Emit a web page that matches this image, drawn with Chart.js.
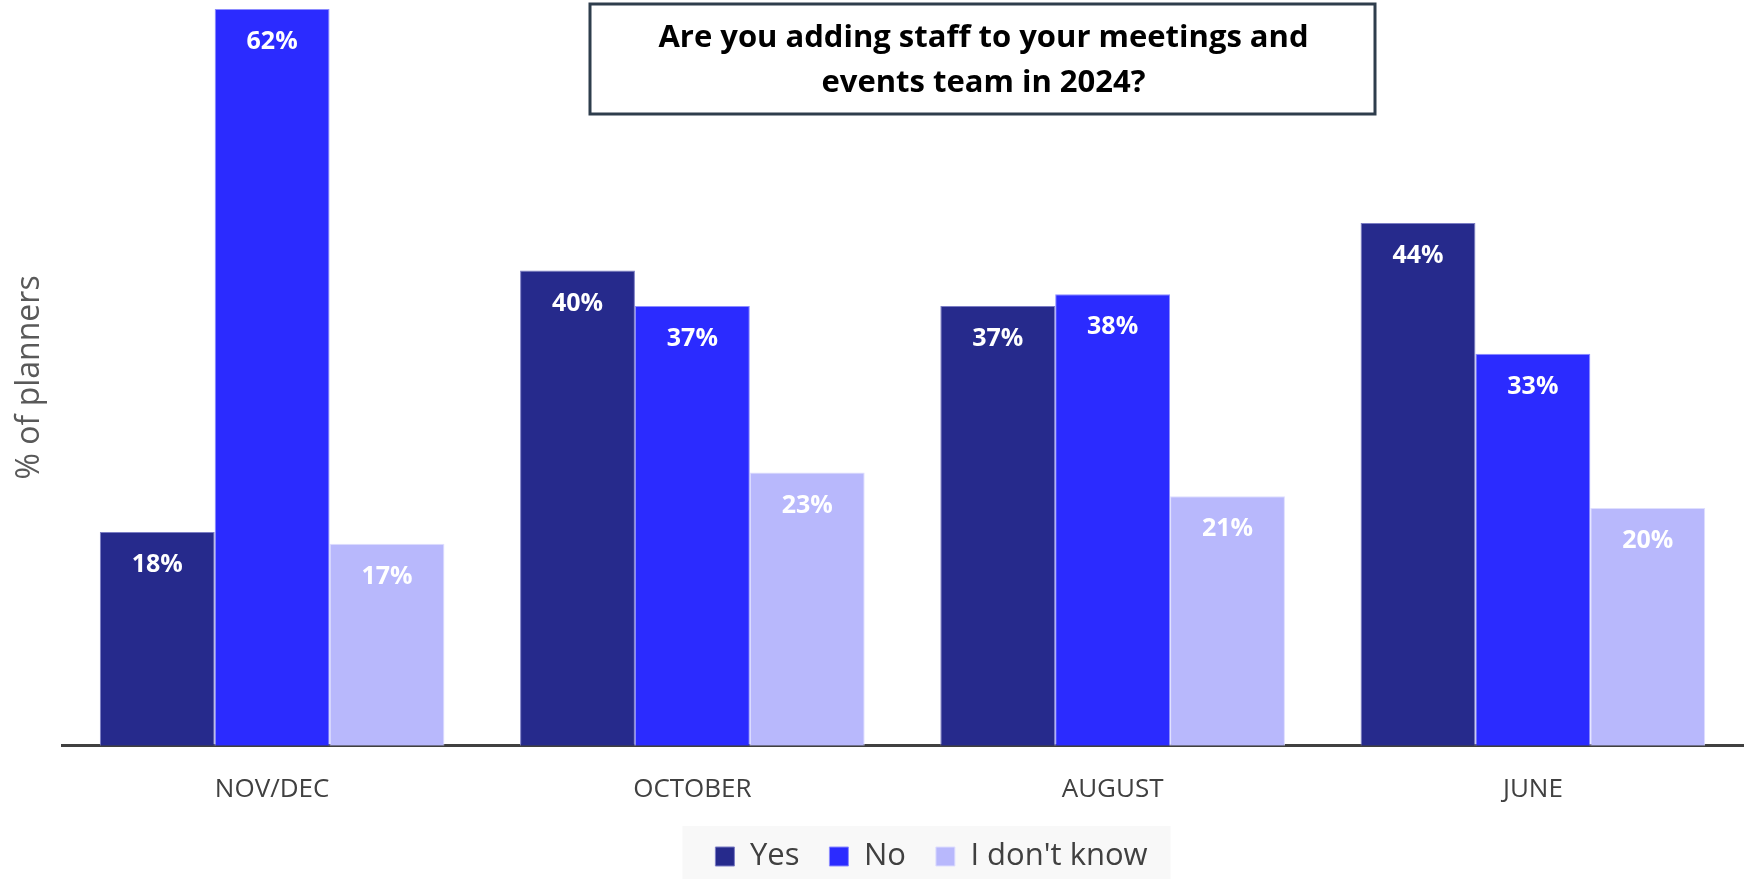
<!DOCTYPE html>
<html>
<head>
<meta charset="utf-8">
<script src="https://cdn.jsdelivr.net/npm/chart.js@4.4.0/dist/chart.umd.min.js"></script>
<style>
  html, body { margin: 0; padding: 0; background: #ffffff; }
  #wrap { width: 1748px; height: 879px; position: relative; }
</style>
</head>
<body>
<div id="wrap"><canvas id="chart" width="1748" height="879"></canvas></div>
<script>
// Survey waves and share of planners per answer (%)
const categories = ['NOV/DEC', 'OCTOBER', 'AUGUST', 'JUNE'];
const yesValues = [18, 40, 37, 44];
const noValues = [62, 37, 38, 33];
const dontKnowValues = [17, 23, 21, 20];
const seriesNames = ['Yes', 'No', "I don't know"];
const titleLines = ['Are you adding staff to your meetings and', 'events team in 2024?'];
const yAxisTitle = '% of planners';

const colors = ['#262a8c', '#2b2bff', '#b8b8fc'];
const borders = ['#7b7dc4', '#8c8cff', '#dedefe'];

// White value labels just inside the top of each bar
const barLabels = {
  id: 'barLabels',
  afterDatasetsDraw(chart) {
    const ctx = chart.ctx;
    ctx.save();
    ctx.fillStyle = '#ffffff';
    ctx.font = 'bold 25px "Open Sans"';
    ctx.textAlign = 'center';
    ctx.textBaseline = 'middle';
    chart.data.datasets.forEach((ds, i) => {
      chart.getDatasetMeta(i).data.forEach((bar, j) => {
        ctx.fillText(ds.data[j] + '%', bar.x, bar.y + 33);
      });
    });
    ctx.restore();
  }
};

// Framed question box at the top centre
const titleBox = {
  id: 'titleBox',
  afterDraw(chart) {
    const ctx = chart.ctx;
    const x = 590, y = 4, w = 785, h = 110;
    ctx.save();
    ctx.fillStyle = '#ffffff';
    ctx.fillRect(x, y, w, h);
    ctx.strokeStyle = '#2e3d4c';
    ctx.lineWidth = 3;
    ctx.strokeRect(x, y, w, h);
    ctx.fillStyle = '#000000';
    ctx.font = 'bold 31px "Open Sans"';
    ctx.textAlign = 'center';
    ctx.textBaseline = 'middle';
    ctx.fillText(titleLines[0], x + w / 2 + 1, 38);
    ctx.fillText(titleLines[1], x + w / 2 + 1, 83);
    ctx.restore();
  }
};

// Shift the legend row and paint its light panel
const legendPanel = {
  id: 'legendPanel',
  afterLayout(chart) {
    const lg = chart.legend;
    lg.left += 60;
    lg.right += 60;
    lg.top += 3;
    lg.bottom += 3;
  },
  beforeDraw(chart) {
    const lg = chart.legend;
    const rowW = lg.lineWidths[0];
    const pad = lg.options.labels.padding;
    const start = ((lg.left + pad) + (lg.right - rowW)) / 2;
    const ctx = chart.ctx;
    ctx.save();
    ctx.fillStyle = '#f8f8f8';
    ctx.fillRect(start - 33, 826, rowW + 26, 53);
    ctx.restore();
  }
};

const datasets = [yesValues, noValues, dontKnowValues].map((vals, i) => ({
  label: seriesNames[i],
  data: vals,
  backgroundColor: colors[i],
  borderColor: borders[i],
  borderWidth: 1,
  categoryPercentage: 0.82,
  barPercentage: 1.0
}));

new Chart(document.getElementById('chart'), {
  type: 'bar',
  data: { labels: categories, datasets },
  options: {
    responsive: false,
    animation: false,
    layout: { padding: { top: 9, right: 5, left: 0, bottom: 0 } },
    plugins: {
      legend: {
        position: 'bottom',
        labels: {
          boxWidth: 19,
          boxHeight: 19,
          padding: 30,
          color: '#404040',
          font: { family: '"Open Sans"', size: 31 }
        }
      },
      title: { display: false },
      tooltip: { enabled: false }
    },
    scales: {
      x: {
        grid: { display: false, drawTicks: false },
        border: { display: true, color: '#404040', width: 3 },
        ticks: {
          color: '#404040',
          padding: 28,
          font: { family: '"Open Sans"', size: 26 }
        },
        afterFit(scale) { scale.height = scale.height - 25; }
      },
      y: {
        min: 0,
        max: 62,
        grid: { display: false, drawTicks: false },
        border: { display: false },
        ticks: { display: false },
        afterFit(scale) { scale.width = 62; },
        title: {
          display: true,
          text: yAxisTitle,
          color: '#595959',
          padding: { top: 11, bottom: 0 },
          font: { family: '"Open Sans"', size: 32 }
        }
      }
    }
  },
  plugins: [barLabels, titleBox, legendPanel]
});
</script>
</body>
</html>
